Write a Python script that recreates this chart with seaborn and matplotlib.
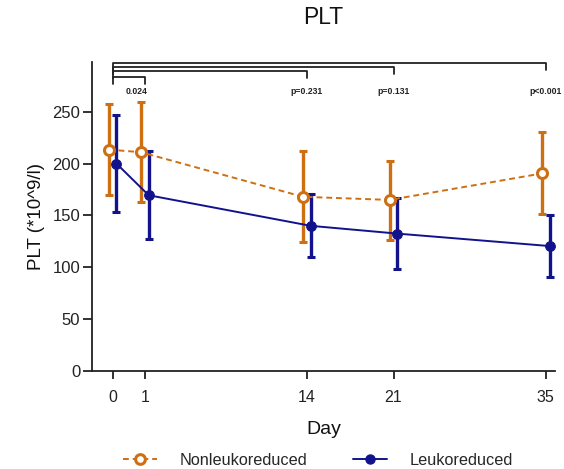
import matplotlib
matplotlib.use("Agg")
import matplotlib.pyplot as plt
import seaborn as sns
import pandas as pd
import numpy as np
from matplotlib.lines import Line2D

# ---- data ----
days = [0, 1, 14, 21, 35]
day_pos = [0, 2.6, 15.7, 22.7, 35]          # axis position of each day tick
groups = ["Nonleukoreduced", "Leukoreduced"]
nonleuko_mean = [213.5, 211, 168, 165, 190.5]
nonleuko_upper = [257.5, 259, 212.5, 203, 230.5]
nonleuko_lower = [169.5, 163, 124, 126.5, 151]
leuko_mean = [200, 169.5, 140, 132.5, 120.5]
leuko_upper = [247, 212, 171, 167, 150]
leuko_lower = [153, 127, 110, 98, 90.5]
comp_days = [1, 14, 21, 35]
p_labels = ["0.024", "p=0.231", "p=0.131", "p<0.001"]
y_ticks = [0, 50, 100, 150, 200, 250]

orange = "#CE6F12"
blue = "#12128C"
offset = 0.31

sns.set_theme(style="ticks")
plt.rcParams["font.family"] = ["Liberation Sans", "DejaVu Sans"]

fig = plt.figure(figsize=(5.64, 4.69), dpi=100)
ax = fig.add_axes([92/564, 1-371/469, (555-92)/564, (371-62)/469])

pos_map = dict(zip(days, day_pos))
rows = []
for g, mean, lo, up, sgn in [(groups[0], nonleuko_mean, nonleuko_lower, nonleuko_upper, -1),
                             (groups[1], leuko_mean, leuko_lower, leuko_upper, 1)]:
    for d, m, l, u in zip(days, mean, lo, up):
        rows.append(dict(group=g, day=d, x=pos_map[d] + sgn*offset, mean=m, lower=l, upper=u))
df = pd.DataFrame(rows)

# error bars
for g, col in zip(groups, [orange, blue]):
    sub = df[df.group == g]
    ax.errorbar(sub.x, sub["mean"], yerr=[sub["mean"] - sub.lower, sub.upper - sub["mean"]],
                fmt="none", ecolor=col, elinewidth=2.4, capsize=2.7, capthick=2.2, zorder=2)

sns.lineplot(data=df, x="x", y="mean", hue="group", style="group",
             palette={groups[0]: orange, groups[1]: blue},
             dashes={groups[0]: (3, 2), groups[1]: ""},
             markers={groups[0]: "o", groups[1]: "o"},
             markersize=7.2, linewidth=1.4, ax=ax, legend=False, zorder=3, sort=False,
             estimator=None)
for ln in ax.get_lines():
    c = matplotlib.colors.to_hex(ln.get_color()).lower()
    if c == orange.lower():
        ln.set_markerfacecolor("white")
        ln.set_markeredgecolor(orange)
        ln.set_markeredgewidth(2.2)
    elif c == blue.lower():
        ln.set_markerfacecolor(blue)
        ln.set_markeredgecolor(blue)
        ln.set_markersize(7)

# significance brackets
bracket_y = [283.5, 289, 293, 297]
drop = 6.5
for d, yb, lab in zip(comp_days, bracket_y, p_labels):
    x0, x1 = pos_map[0], pos_map[d]
    ax.plot([x0, x0, x1, x1], [yb - drop, yb, yb, yb - drop], color="#222222", lw=1.3,
            clip_on=False, zorder=4)
    xt = x1 - 0.65 if d == 1 else x1
    ax.text(xt, 269.5, lab, ha="center", va="center", fontsize=6.2, fontweight="bold",
            color="#222222")

ax.set_xlim(-1.67, 35.75)
ax.set_ylim(0, 298)
ax.set_xticks(day_pos)
ax.set_xticklabels([str(d) for d in days], fontsize=11.5)
ax.set_yticks(y_ticks)
ax.set_yticklabels([str(t) for t in y_ticks], fontsize=12)
ax.tick_params(axis="x", length=6, width=1.3, color="#222222", pad=8, labelcolor="#222222")
ax.tick_params(axis="y", length=6.5, width=1.3, color="#222222", pad=2, labelcolor="#222222")
for s in ["left", "bottom"]:
    ax.spines[s].set_linewidth(1.3)
    ax.spines[s].set_color("#222222")
sns.despine(ax=ax)

ax.set_xlabel("Day", fontsize=14, color="#111111", labelpad=11)
ax.set_ylabel("PLT (*10^9/l)", fontsize=13.5, color="#111111", labelpad=5)
fig.text(323/564, 1-18/469, "PLT", ha="center", va="center", fontsize=16.5, color="#111111")

handles = [Line2D([], [], color=orange, ls=(0, (3, 2)), lw=1.4, marker="o", markersize=7,
                  markerfacecolor="white", markeredgecolor=orange, markeredgewidth=2.2),
           Line2D([], [], color=blue, lw=1.4, marker="o", markersize=6.5,
                  markerfacecolor=blue, markeredgecolor=blue)]
fig.legend(handles, groups, loc="center", bbox_to_anchor=(318/564, 1-460/469), ncol=2,
           frameon=False, fontsize=11.7, handlelength=2.1, columnspacing=2.8, handletextpad=1.4)

fig.savefig("out.png", dpi=100)
